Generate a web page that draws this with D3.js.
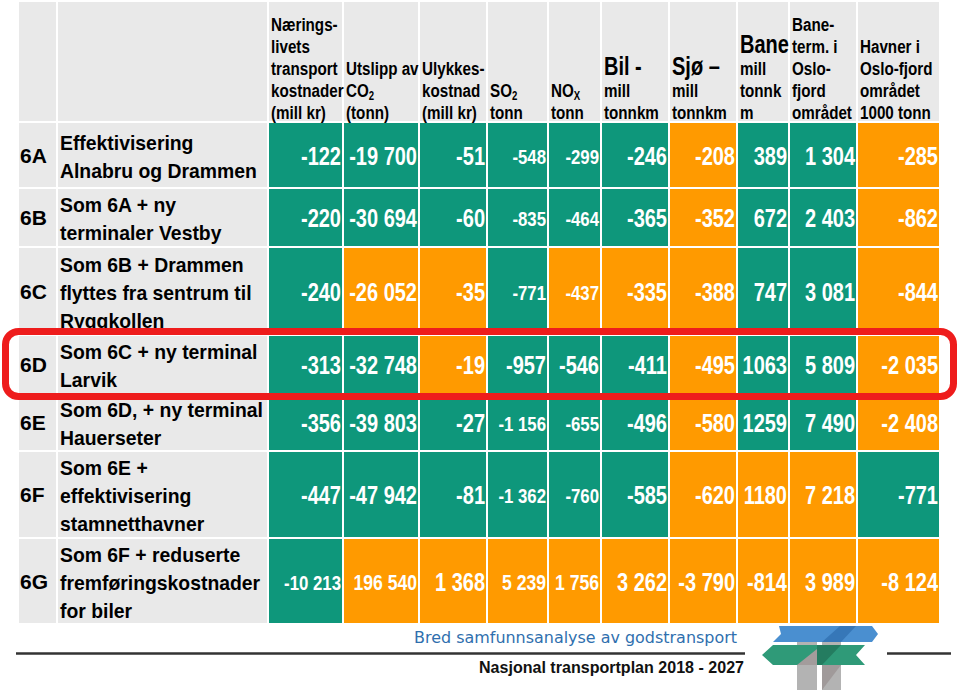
<!DOCTYPE html>
<html><head><meta charset="utf-8">
<script src="https://cdn.jsdelivr.net/npm/d3@7"></script>
<style>body{margin:0;background:#fff}svg{display:block}</style>
</head><body><svg id="chart" width="959" height="694"></svg>
<script>
// ---------------- DATA ----------------
const scenarioCodes = ["6A","6B","6C","6D","6E","6F","6G"];
const scenarioLabels = [
  ["Effektivisering","Alnabru og Drammen"],
  ["Som 6A + ny","terminaler Vestby"],
  ["Som 6B + Drammen","flyttes fra sentrum til","Ryggkollen"],
  ["Som 6C + ny terminal","Larvik"],
  ["Som 6D, + ny terminal","Hauerseter"],
  ["Som 6E +","effektivisering","stamnetthavner"],
  ["Som 6F + reduserte","fremføringskostnader","for biler"]
];
// header lines: "^" = large word, "_x" = subscript
const columnHeaders = [
  ["Nærings-","livets","transport","kostnader","(mill kr)"],
  ["Utslipp av","CO_2","(tonn)"],
  ["Ulykkes-","kostnad","(mill kr)"],
  ["SO_2","tonn"],
  ["NO_X","tonn"],
  ["^Bil -","mill","tonnkm"],
  ["^Sjø –","mill","tonnkm"],
  ["^Bane","mill","tonnk","m"],
  ["Bane-","term. i","Oslo-","fjord","området"],
  ["Havner i","Oslo-fjord","området","1000 tonn"]
];
const values6A = [-122, -19700, -51, -548, -299, -246, -208, 389, 1304, -285];
const values6B = [-220, -30694, -60, -835, -464, -365, -352, 672, 2403, -862];
const values6C = [-240, -26052, -35, -771, -437, -335, -388, 747, 3081, -844];
const values6D = [-313, -32748, -19, -957, -546, -411, -495, 1063, 5809, -2035];
const values6E = [-356, -39803, -27, -1156, -655, -496, -580, 1259, 7490, -2408];
const values6F = [-447, -47942, -81, -1362, -760, -585, -620, 1180, 7218, -771];
const values6G = [-10213, 196540, 1368, 5239, 1756, 3262, -3790, -814, 3989, -8124];
// assessment: G = favourable (green), O = unfavourable (orange)
const assess6A = ["G","G","G","G","G","G","O","G","G","O"];
const assess6B = ["G","G","G","G","G","G","O","G","G","O"];
const assess6C = ["G","O","O","G","O","O","O","G","G","O"];
const assess6D = ["G","G","O","G","G","G","O","G","G","O"];
const assess6E = ["G","G","G","G","G","G","O","G","G","O"];
const assess6F = ["G","G","G","G","G","G","O","O","O","G"];
const assess6G = ["G","O","O","O","O","O","O","O","O","O"];
const highlighted = "6D";
const footerSubtitle = "Bred samfunnsanalyse av godstransport";
const footerTitle = "Nasjonal transportplan 2018 - 2027";

// ---------------- LAYOUT / STYLE ----------------
const valueRows = [values6A, values6B, values6C, values6D, values6E, values6F, values6G];
const assessRows = [assess6A, assess6B, assess6C, assess6D, assess6E, assess6F, assess6G];
const colEdges = [18, 57, 268, 343, 419, 487, 548, 601, 669, 737, 789, 857, 940];
const rowEdges = [2, 122, 188, 247, 335, 394, 451, 538, 624];
const smallCells = {"0-3":21,"0-4":21,"1-3":21,"1-4":21,"2-3":21,"2-4":21,"4-3":21,"4-4":21,
                    "5-3":21,"5-4":21,"6-0":21,"6-1":22,"6-3":22,"6-4":22};
const FONT = "'Liberation Sans', Arial, sans-serif";
const NARROW = 0.8;

const svg = d3.select("#chart");
const colIdx = d3.range(colEdges.length - 1);
const rowIdx = d3.range(rowEdges.length - 1);
const x0 = d3.scaleOrdinal().domain(colIdx).range(colEdges.slice(0, -1));
const x1 = d3.scaleOrdinal().domain(colIdx).range(colEdges.slice(1));
const y0 = d3.scaleOrdinal().domain(rowIdx).range(rowEdges.slice(0, -1));
const y1 = d3.scaleOrdinal().domain(rowIdx).range(rowEdges.slice(1));
const fill = d3.scaleOrdinal().domain(["G","O","H"]).range(["#0e977b","#ff9a00","#e9e9e9"]);
const grp = d3.formatLocale({decimal: ",", thousands: "\u00a0", grouping: [3], currency: ["", " kr"], minus: "-"});
const fmtGrouped = grp.format(",d");
const fmtPlain = grp.format("d");
const fmt = (v, c) => (c === 7 ? fmtPlain(v) : fmtGrouped(v));

// ---------------- HEADER ----------------
const hdr = svg.append("g");
colIdx.forEach(c => {
  hdr.append("rect").attr("x", x0(c) + 1).attr("y", y0(0)).attr("width", x1(c) - x0(c) - 2)
    .attr("height", y1(0) - y0(0) - 1).attr("fill", fill("H"));
});
columnHeaders.forEach((lines, i) => {
  const c = i + 2, n = lines.length;
  lines.forEach((ln, k) => {
    const base = 119 - 22 * (n - 1 - k);
    const big = ln.startsWith("^");
    const txt = big ? ln.slice(1) : ln;
    const t = hdr.append("text")
      .attr("transform", `translate(${x0(c) + 3},${base}) scale(${NARROW},1)`)
      .attr("font-family", FONT).attr("font-weight", "bold")
      .attr("font-size", big ? 25 : 19).attr("fill", "#000");
    if (txt.includes("_")) {
      const [main, sub] = txt.split("_");
      t.append("tspan").text(main);
      t.append("tspan").attr("font-size", 12).attr("dy", 3).text(sub);
    } else t.text(txt);
  });
});

// ---------------- BODY ----------------
const body = svg.append("g");
scenarioCodes.forEach((code, r) => {
  const ri = r + 1, top = y0(ri), bot = y1(ri), mid = (top + bot) / 2;
  [0, 1].forEach(c => body.append("rect").attr("x", x0(c) + 1).attr("y", top + 1)
    .attr("width", x1(c) - x0(c) - 2).attr("height", bot - top - 2).attr("fill", fill("H")));
  body.append("text").attr("x", x0(0) + 2).attr("y", mid + 7.5)
    .attr("font-family", FONT).attr("font-weight", "bold").attr("font-size", 21).text(code);
  const lines = scenarioLabels[r];
  lines.forEach((ln, k) => {
    const cy = mid + (k - (lines.length - 1) / 2) * 28 + 1;
    body.append("text").attr("transform", `translate(${x0(1) + 3},${cy + 7.5}) scale(0.945,1)`)
      .attr("font-family", FONT).attr("font-weight", "bold").attr("font-size", 20.5).text(ln);
  });
  valueRows[r].forEach((v, j) => {
    const c = j + 2;
    body.append("rect").attr("x", x0(c) + 1).attr("y", top + 1)
      .attr("width", x1(c) - x0(c) - 2).attr("height", bot - top - 2)
      .attr("fill", fill(assessRows[r][j]));
    const fs = smallCells[`${r}-${j}`] || 25;
    body.append("text").attr("transform", `translate(${x1(c) - 2},${mid + 1 + fs * 0.358}) scale(${NARROW},1)`)
      .attr("text-anchor", "end").attr("font-family", FONT).attr("font-weight", "bold")
      .attr("font-size", fs).attr("fill", "#fff").text(fmt(v, j));
  });
});

// highlight frame
const hi = scenarioCodes.indexOf(highlighted) + 1;
svg.append("rect").attr("x", 5.5).attr("y", y0(hi) - 3.5).attr("width", 948)
  .attr("height", y1(hi) - y0(hi) + 6).attr("rx", 13).attr("fill", "none")
  .attr("stroke", "#ee1c1c").attr("stroke-width", 7);

// ---------------- FOOTER ----------------
const ft = svg.append("g");
ft.append("text").attr("x", 414).attr("y", 643).attr("font-family", "'DejaVu Sans', Verdana, sans-serif")
  .attr("font-size", 16.5).attr("fill", "#2f6fae").attr("textLength", 323).attr("lengthAdjust", "spacingAndGlyphs")
  .text(footerSubtitle);
ft.append("line").attr("x1", 16).attr("x2", 745).attr("y1", 653.5).attr("y2", 653.5).attr("stroke", "#333").attr("stroke-width", 2.5);
ft.append("line").attr("x1", 887).attr("x2", 951).attr("y1", 653.5).attr("y2", 653.5).attr("stroke", "#333").attr("stroke-width", 2.5);
ft.append("text").attr("x", 479).attr("y", 673).attr("font-family", FONT).attr("font-weight", "bold")
  .attr("font-size", 16.5).attr("fill", "#111").attr("textLength", 265).attr("lengthAdjust", "spacingAndGlyphs")
  .text(footerTitle);

// logo (signpost)
const logo = svg.append("g");
const poly = (pts, col) => logo.append("polygon").attr("points", pts.map(p => p.join(",")).join(" ")).attr("fill", col);
poly([[797,626],[817,626],[817,690],[797,690]], "#b3b3b3");
poly([[822,626],[841,626],[841,690],[822,690]], "#b3b3b3");
poly([[779,626],[872,626],[878,634],[872,642],[773,642],[781,634]], "#4a8fd0");
poly([[840,626],[856,626],[841,642],[822,642]], "#3677b8");
poly([[773,645],[865,645],[856,655],[865,665],[773,665],[762,655]], "#2f9a78");
poly([[817,645],[841,645],[822,665],[817,665]], "#247c60");
poly([[797,665],[817,649],[817,665]], "#a39c9c");
poly([[822,665],[841,665],[822,690]], "#a09a9a");
</script></body></html>
